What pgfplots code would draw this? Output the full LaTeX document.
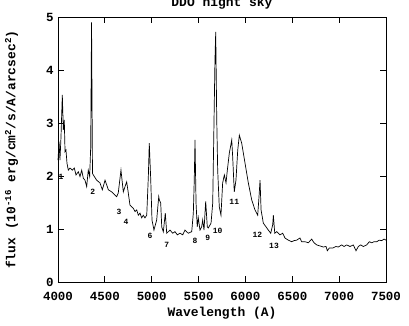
\documentclass[border=0pt]{standalone}
\usepackage{fontspec}
\setmainfont{Liberation Mono}
\usepackage{pgfplots}
\pgfplotsset{compat=1.18}
\usetikzlibrary{calc}

\pgfplotstableread{
lam flux
4000 2.30
4011 2.65
4021 2.30
4032 2.74
4046 3.53
4057 2.87
4067 3.06
4075 2.46
4085 2.49
4096 2.24
4110 2.11
4128 2.15
4153 2.11
4174 2.15
4192 2.02
4217 2.08
4235 1.99
4253 2.11
4270 1.96
4288 1.92
4306 1.80
4323 2.11
4338 1.99
4349 2.55
4358 4.90
4368 2.05
4377 2.02
4413 1.92
4448 1.87
4473 1.74
4502 1.92
4520 1.83
4537 1.74
4573 1.70
4608 1.64
4626 1.61
4643 1.68
4672 2.11
4697 1.70
4715 1.80
4733 1.89
4750 1.68
4768 1.45
4804 1.39
4822 1.33
4840 1.36
4857 1.26
4875 1.30
4893 1.21
4910 1.26
4928 1.21
4947 1.26
4964 1.99
4974 2.62
4989 1.96
5003 1.17
5024 0.98
5053 1.17
5075 1.61
5081 1.55
5096 1.49
5107 1.04
5124 0.95
5145 1.30
5160 0.92
5195 0.98
5224 0.92
5248 0.95
5273 0.89
5302 0.92
5331 0.89
5355 0.98
5390 0.92
5427 0.95
5444 1.30
5454 1.92
5462 2.68
5473 1.49
5486 1.04
5497 1.21
5515 0.98
5533 1.04
5544 1.17
5558 0.98
5576 1.52
5593 1.04
5604 1.02
5633 1.11
5651 1.49
5665 3.06
5675 4.19
5683 4.72
5694 3.06
5704 2.11
5721 1.42
5739 1.26
5757 1.87
5775 2.02
5793 1.87
5807 2.11
5828 2.43
5854 2.68
5864 2.36
5881 1.70
5899 1.92
5918 2.49
5935 2.77
5960 2.62
5996 2.24
6031 1.87
6067 1.55
6102 1.36
6131 1.26
6145 1.61
6156 1.92
6167 1.36
6191 1.11
6220 1.04
6244 0.98
6270 0.92
6291 1.08
6298 1.26
6313 0.92
6334 0.95
6369 0.89
6398 0.92
6422 0.83
6457 0.79
6494 0.76
6518 0.78
6547 0.79
6582 0.83
6600 0.76
6636 0.76
6671 0.74
6707 0.81
6732 0.74
6761 0.70
6796 0.68
6831 0.66
6860 0.67
6874 0.59
6895 0.64
6931 0.64
6966 0.67
6991 0.66
7027 0.70
7052 0.67
7081 0.70
7116 0.67
7151 0.70
7180 0.59
7205 0.67
7230 0.70
7258 0.67
7294 0.70
7322 0.76
7348 0.74
7372 0.76
7401 0.76
7429 0.79
7454 0.78
7479 0.81
7500 0.79
}\skydata

\begin{document}
\begin{tikzpicture}
\begin{axis}[
 name=ax,
 scale only axis,
 width=328bp,height=265bp,
 xmin=4000,xmax=7500,ymin=0,ymax=5,
 xtick={4000,4500,...,7500},ytick={0,1,...,5},
 minor tick num=0,
 tick align=inside,
 major tick length=6bp,
 axis line style={line width=0.9bp},
 every tick/.style={black,line width=0.8bp},
 tick label style={font=\fontsize{12.5}{14}\selectfont\bfseries},
 /pgf/number format/assume math mode=true,
 /pgf/number format/1000 sep={},
 xticklabel style={yshift=-7bp},
 yticklabel style={xshift=-1bp},
 label style={font=\fontsize{13}{15}\selectfont\bfseries},
 xlabel={Wavelength (A)},
 xlabel style={yshift=1bp},
 ylabel={flux (10\textsuperscript{-16} erg/cm\textsuperscript{2}/s/A/arcsec\textsuperscript{2})},
 ylabel style={yshift=21bp},
 title={DDO night sky},
 title style={font=\fontsize{13}{15}\selectfont\bfseries,at={(0.5,1)},anchor=base,yshift=4.5bp},
 clip=false,
]
\addplot[black,line width=0.7bp] table[x=lam,y=flux]{\skydata};
\begin{scope}[every node/.style={font=\fontsize{8}{9}\selectfont\bfseries,inner sep=0pt}]
\node at (axis cs:4032,1.98) {1};
\node at (axis cs:4370,1.70) {2};
\node at (axis cs:4651,1.33) {3};
\node at (axis cs:4726,1.14) {4};
\node at (axis cs:4982,0.87) {6};
\node at (axis cs:5160,0.70) {7};
\node at (axis cs:5462,0.78) {8};
\node at (axis cs:5597,0.83) {9};
\node at (axis cs:5704,0.97) {10};
\node at (axis cs:5881,1.52) {11};
\node at (axis cs:6127,0.89) {12};
\node at (axis cs:6305,0.68) {13};
\end{scope}
\end{axis}
\pgfresetboundingbox
\path ($(ax.south west)+(-58bp,-44bp)$) rectangle ($(ax.north east)+(23bp,17bp)$);
\end{tikzpicture}
\end{document}
